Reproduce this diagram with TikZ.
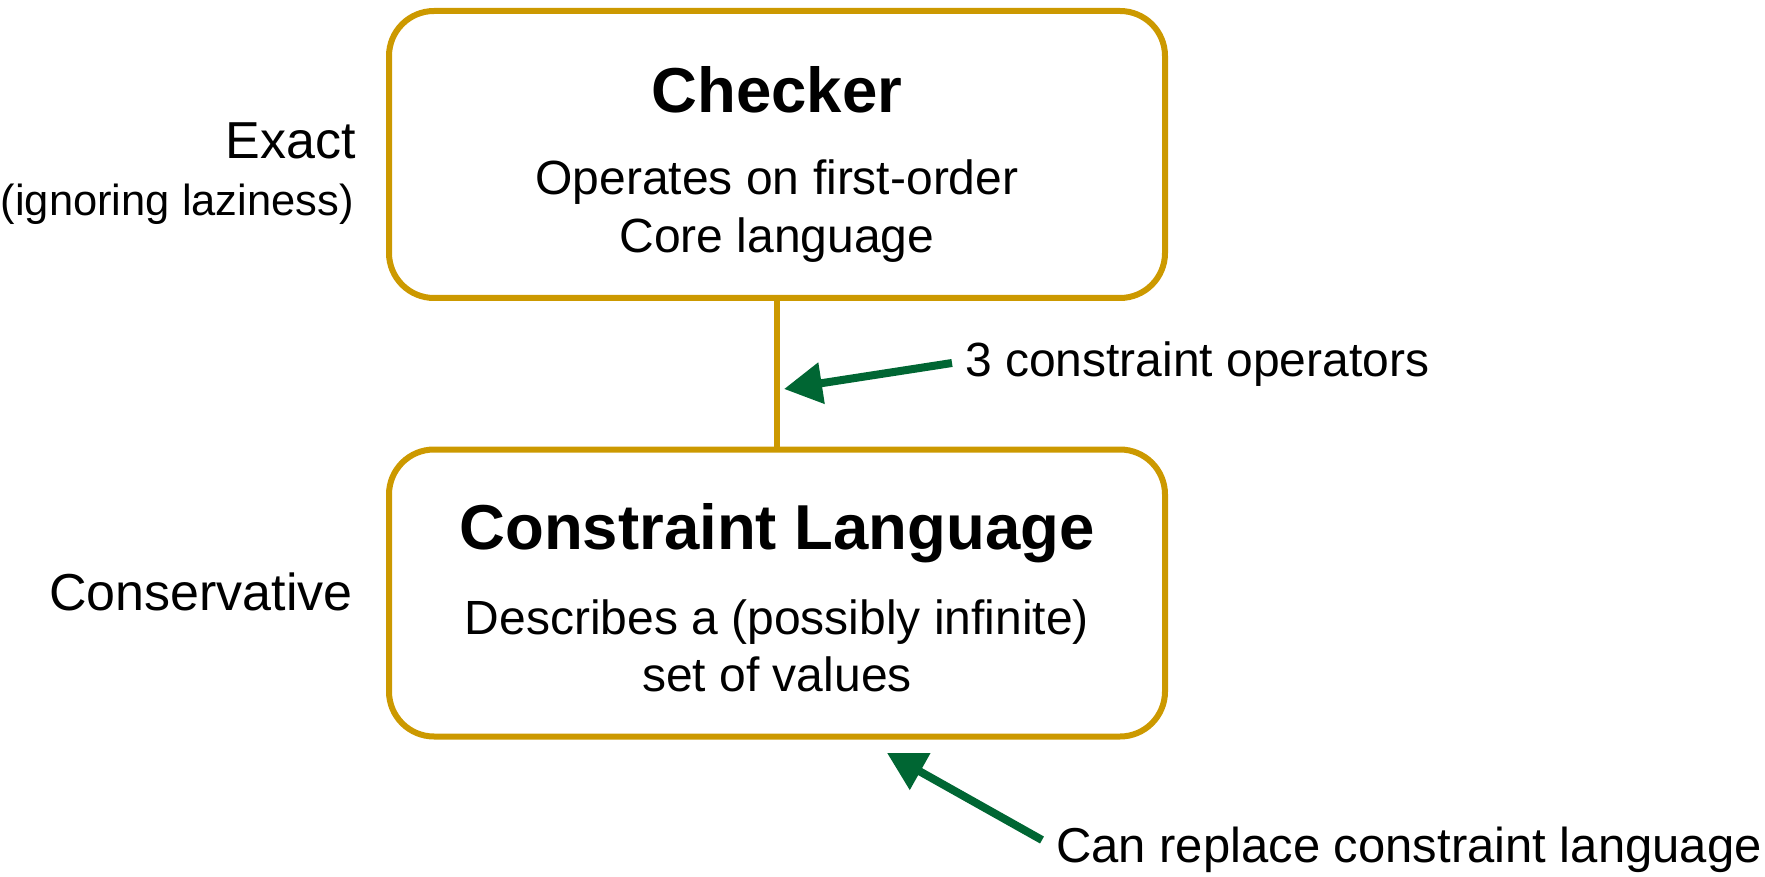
\documentclass[tikz,border=0pt]{standalone}
\usepackage{fontspec}
\setmainfont{Liberation Sans}
\usetikzlibrary{arrows.meta}
\definecolor{gold}{RGB}{204,153,0}
\definecolor{dgreen}{RGB}{0,102,51}
\tikzset{
  box/.style={draw=gold, line width=6pt, rounded corners=45pt, minimum width=776pt, minimum height=287pt, inner sep=0pt},
  goldline/.style={draw=gold, line width=6pt},
  greenarrow/.style={draw=dgreen, line width=8pt, -{Triangle[length=38pt,width=40pt]}},
  title/.style={font=\bfseries\fontsize{63.5}{70}\selectfont, inner sep=0pt, anchor=base},
  body/.style={font=\fontsize{48}{58}\selectfont, inner sep=0pt, anchor=base},
  side/.style={font=\fontsize{52}{60}\selectfont, inner sep=0pt, anchor=base east},
  sidesmall/.style={font=\fontsize{43.5}{52}\selectfont, inner sep=0pt, anchor=base east},
  note/.style={font=\fontsize{48}{58}\selectfont, inner sep=0pt, anchor=base west}
}
\begin{document}
\begin{tikzpicture}[x=1pt,y=-1pt]
\useasboundingbox (0,0) rectangle (1765,877);
% boxes
\node[box] (checker) at (777,154.5) {};
\node[box] (cl) at (777,593) {};
\draw[goldline] (checker.south) -- (cl.north);
% box texts
\node[title] (t1) at (777,113) {Checker};
\node[body] (b1) at (777,195) {Operates on first-order};
\node[body] (b2) at (777,253) {Core language};
\node[title] (t2) at (777,549) {Constraint Language};
\node[body] (b3) at (777,634) {Describes a (possibly infinite)};
\node[body] (b4) at (777,691) {set of values};
% side labels
\node[side] (exact) at (356,159) {Exact};
\node[sidesmall] (ign) at (354,216) {(ignoring laziness)};
\node[side] (cons) at (353,610) {Conservative};
% annotations
\node[note] (ops) at (965,377) {3 constraint operators};
\node[note, font=\fontsize{49}{58}\selectfont] (repl) at (1056,862) {Can replace constraint language};
\coordinate (tip1) at (784,389);
\coordinate (tip2) at (887,753);
\coordinate (tail1) at (952,363);
\coordinate (tail2) at (1042,840);
\draw[greenarrow] (tail1) -- (tip1);
\draw[greenarrow] (tail2) -- (tip2);
\end{tikzpicture}
\end{document}
